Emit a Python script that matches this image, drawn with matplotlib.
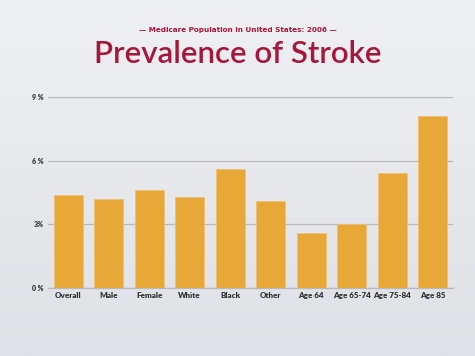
import matplotlib
matplotlib.use("Agg")
import matplotlib.pyplot as plt
import numpy as np
from matplotlib.colors import LinearSegmentedColormap

categories = ["Overall", "Male", "Female", "White", "Black", "Other",
              "Age 64", "Age 65-74", "Age 75-84", "Age 85"]
values = [4.4, 4.2, 4.6, 4.3, 5.6, 4.1, 2.6, 3.0, 5.4, 8.1]
yticks = [0, 3, 6, 9]
ytick_labels = ["0 %", "3%", "6 %", "9 %"]

fig = plt.figure(figsize=(4.75, 3.56), dpi=100)
# background gradient
bg = fig.add_axes([0, 0, 1, 1], zorder=-10)
grad = np.linspace(0, 1, 256).reshape(-1, 1)
cmap = LinearSegmentedColormap.from_list("bg", ["#eef0f3", "#dfe1e6"])
bg.imshow(grad, aspect="auto", cmap=cmap, extent=[0, 1, 0, 1])
bg.axis("off")

ax = fig.add_axes([0.101, 0.191, 0.853, 0.5365])
ax.patch.set_alpha(0)
x = np.arange(len(categories))
ax.bar(x, values, width=0.72, color="#e8a838", edgecolor="#f0c070", linewidth=0.5, zorder=3)
ax.set_xlim(-0.5, len(categories) - 0.5)
ax.set_ylim(0, 9)
ax.set_yticks(yticks)
ax.set_yticklabels(ytick_labels)
ax.grid(axis="y", color="#b8b9bd", linewidth=0.9, zorder=0)
for s in ["top", "right", "left"]:
    ax.spines[s].set_visible(False)
ax.spines["bottom"].set_color("#b8b9bd")
ax.spines["bottom"].set_linewidth(0.9)
ax.set_xticks(x)
ax.set_xticklabels(categories)
ax.tick_params(axis="x", length=0, pad=3, labelsize=5.8, labelcolor="#333333")
ax.tick_params(axis="y", length=0, pad=3, labelsize=5, labelcolor="#333333")
for lbl in ax.get_xticklabels() + ax.get_yticklabels():
    lbl.set_fontweight("heavy")
    lbl.set_family("Lato")

fig.text(0.5, 0.915, "— Medicare Population in United States: 2006 —",
         ha="center", va="center", fontsize=5.2, color="#a8173a",
         family="DejaVu Sans", fontweight="bold")
fig.text(0.5, 0.848, "Prevalence of Stroke", ha="center", va="center",
         fontsize=22.5, color="#a8173a", family="Lato", fontweight="semibold")

fig.savefig("out.png", dpi=100)
